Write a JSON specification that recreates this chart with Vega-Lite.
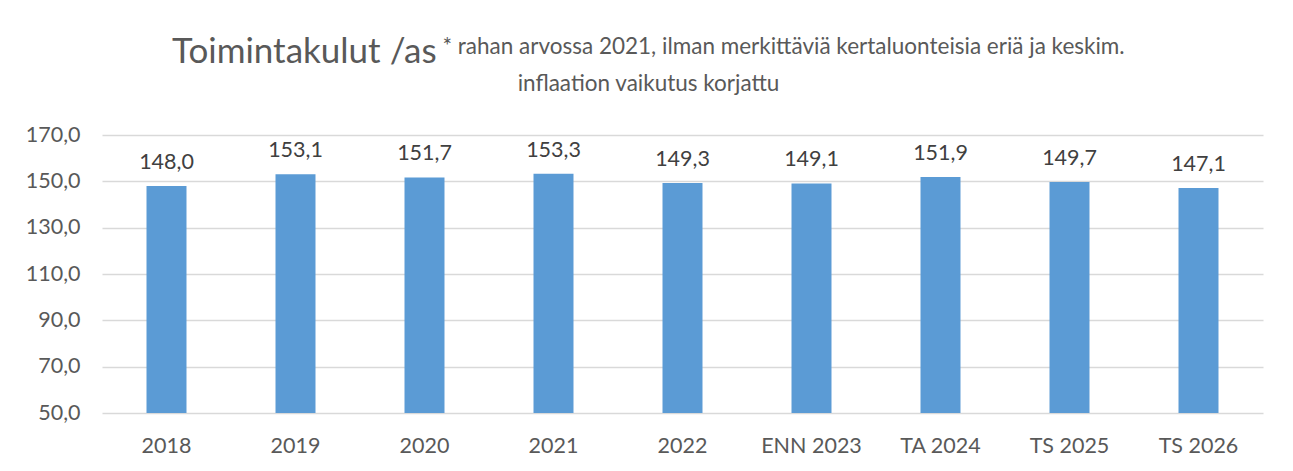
{
  "$schema": "https://vega.github.io/schema/vega-lite/v6.json",
  "autosize": {"type": "none"},
  "width": 1161,
  "height": 278,
  "padding": {"left": 102, "top": 135, "right": 30, "bottom": 58},
  "background": "white",
  "config": {
    "locale": {"number": {"decimal": ",", "thousands": "\u00a0", "grouping": [3], "currency": ["", " €"]}},
    "font": "Lato",
    "view": {"stroke": null},
    "text": {"font": "Lato"}
  },
  "title": {
    "text": "Toimintakulut /as",
    "anchor": "start",
    "frame": "group",
    "dx": 70,
    "dy": 39,
    "fontSize": 35,
    "fontWeight": "normal",
    "font": "Lato",
    "color": "#595959"
  },
  "data": {
    "values": [
      {"vuosi": "2018", "arvo": 148.0},
      {"vuosi": "2019", "arvo": 153.1},
      {"vuosi": "2020", "arvo": 151.7},
      {"vuosi": "2021", "arvo": 153.3},
      {"vuosi": "2022", "arvo": 149.3},
      {"vuosi": "ENN 2023", "arvo": 149.1},
      {"vuosi": "TA 2024", "arvo": 151.9},
      {"vuosi": "TS 2025", "arvo": 149.7},
      {"vuosi": "TS 2026", "arvo": 147.1}
    ]
  },
  "encoding": {
    "x": {
      "field": "vuosi",
      "type": "nominal",
      "sort": null,
      "scale": {"paddingInner": 0, "paddingOuter": 0},
      "axis": {
        "title": "* rahan arvossa 2021, ilman merkittäviä kertaluonteisia eriä ja keskim.",
        "titleX": 340,
        "titleY": -360,
        "titleAlign": "left",
        "titleAnchor": null,
        "titleBaseline": "alphabetic",
        "titleFontSize": 22.5,
        "titleFontWeight": "normal",
        "titleColor": "#595959",
        "titleFont": "Lato",
        "labelAngle": 0,
        "labelFontSize": 21.5,
        "labelColor": "#595959",
        "labelFont": "Lato",
        "labelBaseline": "alphabetic",
        "labelPadding": 39,
        "ticks": false,
        "domain": false
      }
    },
    "y": {
      "field": "arvo",
      "type": "quantitative",
      "scale": {"domain": [50, 170], "zero": false, "nice": false, "clamp": true},
      "axis": {
        "title": "inflaation vaikutus korjattu",
        "titleAngle": 0,
        "titleX": 546,
        "titleY": -45,
        "titleAlign": "center",
        "titleBaseline": "alphabetic",
        "titleFontSize": 22.5,
        "titleFontWeight": "normal",
        "titleColor": "#595959",
        "titleFont": "Lato",
        "values": [50, 70, 90, 110, 130, 150, 170],
        "format": ".1f",
        "labelFontSize": 21.5,
        "labelColor": "#595959",
        "labelFont": "Lato",
        "labelPadding": 22,
        "ticks": false,
        "domain": false,
        "gridColor": "#D9D9D9",
        "gridWidth": 1.5
      }
    }
  },
  "layer": [
    {
      "mark": {"type": "bar", "color": "#5B9BD5", "width": {"band": 0.31}, "clip": true}
    },
    {
      "mark": {"type": "text", "baseline": "alphabetic", "dy": -17, "fontSize": 21.5, "color": "#404040", "font": "Lato"},
      "encoding": {
        "text": {"field": "arvo", "type": "quantitative", "format": ".1f"}
      }
    }
  ]
}
